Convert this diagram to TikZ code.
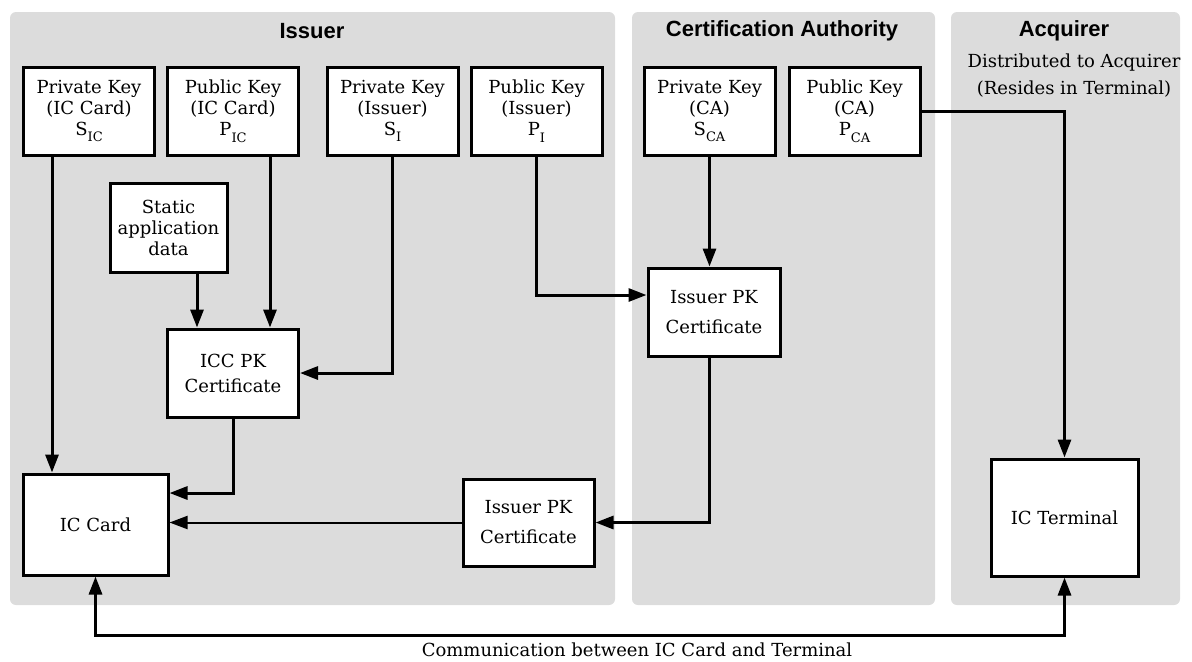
\documentclass[tikz,border=0pt]{standalone}
\usepackage{fontspec}
\setmainfont{DejaVu Serif}
\newfontfamily\titlefont{Liberation Sans}
\usetikzlibrary{arrows.meta,calc}
\definecolor{panelgray}{RGB}{220,220,220}
\newcommand{\keysub}[1]{\raisebox{-0.7ex}{\fontsize{6.5}{7}\selectfont #1}}

\tikzset{
  panel/.style={fill=panelgray, rounded corners=3pt},
  paneltitle/.style={font=\titlefont\bfseries\fontsize{11}{13}\selectfont},
  keybox/.style={draw, line width=1.5pt, fill=white, align=center, inner sep=0pt,
    minimum width=65.5pt, minimum height=44pt, font=\fontsize{9}{10.5}\selectfont},
  flow/.style={line width=1.5pt, -{Triangle[length=9pt,width=6.5pt]}},
  thinflow/.style={line width=1pt, -{Triangle[length=9pt,width=6.5pt]}},
  commflow/.style={line width=1.5pt, {Triangle[length=9pt,width=6.5pt]}-{Triangle[length=9pt,width=6.5pt]}},
}

\begin{document}
\begin{tikzpicture}[x=0.5pt, y=-0.5pt]
    \useasboundingbox (0,0) rectangle (1192,661);

    \fill[panel] (10,12) rectangle (615,605);
    \fill[panel] (632,12) rectangle (935,605);
    \fill[panel] (951,12) rectangle (1180,605);

    \node[paneltitle] (tissuer) at (312,31) {Issuer};
    \node[paneltitle] (tca) at (782,31) {Certification Authority};
    \node[paneltitle] (tacq) at (1064,31) {Acquirer};
    \node[align=center, font=\fontsize{9}{13.5}\selectfont] (distr) at (1074,76)
        {Distributed to Acquirer\\(Resides in Terminal)};

    \node[keybox] (sic) at (89,111) {Private Key\\(IC Card)\\S\keysub{IC}};
    \node[keybox] (pic) at (233,111) {Public Key\\(IC Card)\\P\keysub{IC}};
    \node[keybox] (si) at (392.5,111) {Private Key\\(Issuer)\\S\keysub{I}};
    \node[keybox] (pi) at (536.5,111) {Public Key\\(Issuer)\\P\keysub{I}};
    \node[keybox] (sca) at (709.5,111) {Private Key\\(CA)\\S\keysub{CA}};
    \node[keybox] (pca) at (854.5,111) {Public Key\\(CA)\\P\keysub{CA}};

    \node[keybox, minimum width=58.5pt, minimum height=44.5pt] (static) at (168.5,227.5)
        {Static\\application\\data};
    \node[keybox, minimum height=44pt, font=\fontsize{9}{12.5}\selectfont] (icc) at (233,373)
        {ICC PK\\Certificate};
    \node[keybox, minimum width=72.5pt, minimum height=50.5pt] (card) at (95.5,524.5) {IC Card};
    \node[keybox, minimum height=43.5pt, font=\fontsize{9}{15}\selectfont] (isscert) at (528.5,522.5)
        {Issuer PK\\Certificate};
    \node[keybox, minimum width=66pt, font=\fontsize{9}{15}\selectfont] (cacert) at (714,312)
        {Issuer PK\\Certificate};
    \node[keybox, minimum width=73.5pt, minimum height=58.5pt] (term) at (1064.5,517.5) {IC Terminal};

    \draw[flow] ([xshift=-18.5pt]sic.south) -- ([xshift=-18.5pt]sic.south |- card.north);
    \draw[flow] ([xshift=18.5pt]pic.south) -- ([xshift=18.5pt]pic.south |- icc.north);
    \draw[flow] ([xshift=-18pt]icc.north |- static.south) -- ([xshift=-18pt]icc.north);
    \draw[flow] (si.south) |- (icc.east);
    \draw[flow] (pi.south) |- ([yshift=8.5pt]cacert.west);
    \draw[flow] (sca.south) -- (sca.south |- cacert.north);
    \draw[flow] (pca.east) -| (term.north);
    \draw[flow] (icc.south) |- ([yshift=15.75pt]card.east);
    \draw[flow] (sca.south |- cacert.south) |- (isscert.east);
    \draw[thinflow] (isscert.west) -- (isscert.west -| card.east);

    \coordinate (commline) at (640,635);
    \draw[commflow] (card.south) |- (commline) -| (term.south);
    \node[font=\fontsize{9}{11}\selectfont] (commtext) at (637,650)
        {Communication between IC Card and Terminal};
\end{tikzpicture}
\end{document}
